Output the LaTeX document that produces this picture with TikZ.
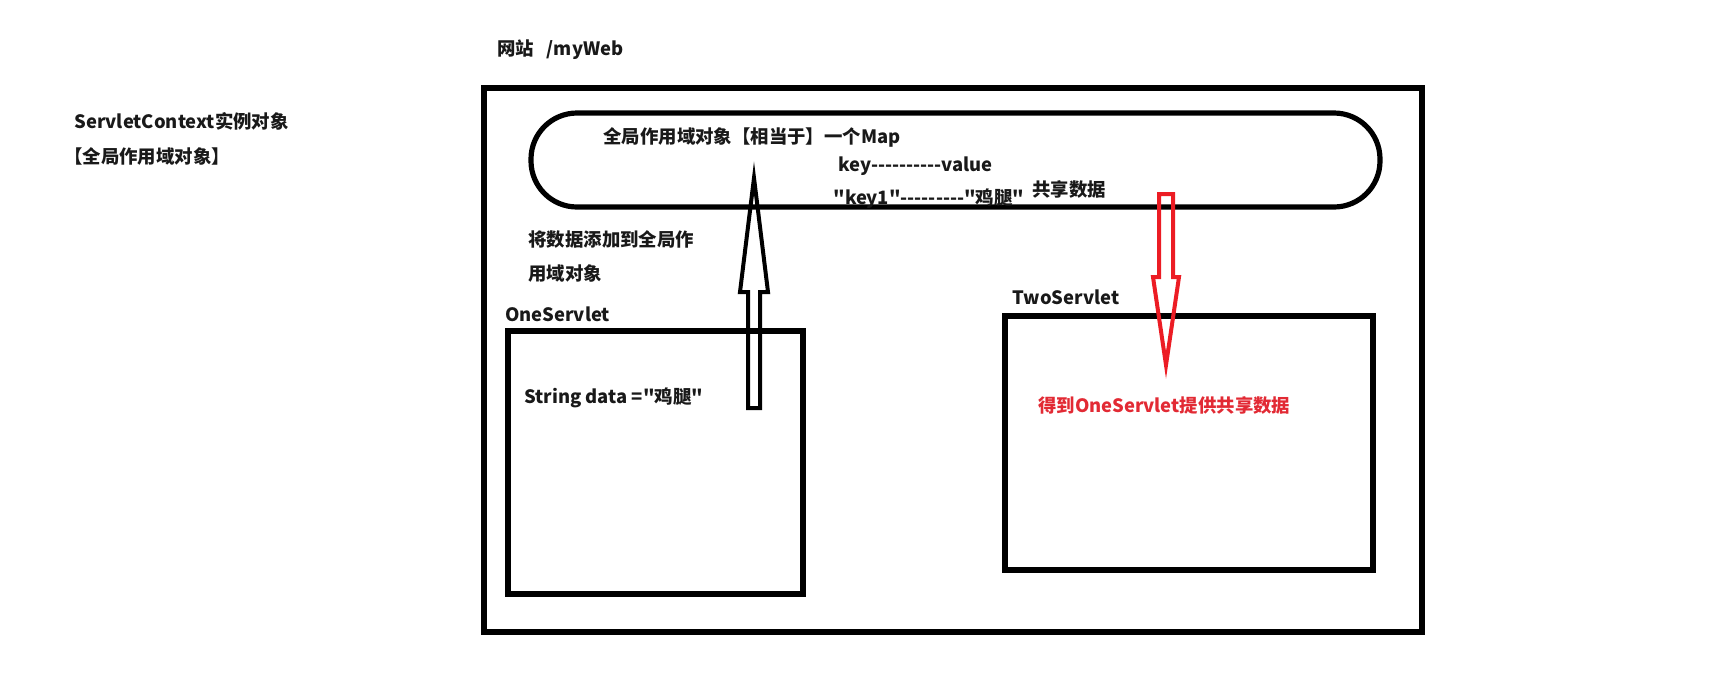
\documentclass[tikz,border=0pt]{standalone}
\usepackage{fontspec}
\newfontfamily\cnfont{Noto Sans CJK SC}
\usetikzlibrary{calc}
\definecolor{arrowred}{RGB}{236,28,36}
\definecolor{notered}{RGB}{226,42,52}
\tikzset{
  web frame/.style={draw, line width=3pt, inner sep=0pt},
  servlet box/.style={draw, line width=2.6pt, inner sep=0pt},
  scope shape/.style={draw, line width=2.6pt, rounded corners=23pt, inner sep=0pt},
  txt/.style={anchor=west, inner sep=0pt, text=black!90,
    font=\cnfont\bfseries\fontsize{9.2}{11}\selectfont},
  hollow arrow/.style={line width=2pt, line join=miter}
}

\begin{document}
\begin{tikzpicture}[x=0.5pt,y=-0.5pt]
  \useasboundingbox (0,0) rectangle (1725,687);
  % left note
  \node[txt] (ctx) at (74,121) {ServletContext实例对象};
  \node[txt] (ctxnote) at (64,156) {【全局作用域对象】};
  % the web site
  \node[txt] (webname) at (497,50) {网站\ \ \ /myWeb};
  \node[web frame, minimum width=469pt, minimum height=272pt] (web) at (953,360) {};
  % global scope object
  \node[scope shape, minimum width=424.5pt, minimum height=47pt] (scope) at (955.5,160) {};
  \node[txt] (maptitle) at (603,137) {全局作用域对象【相当于】一个Map};
  \node[txt] (mapkeys) at (838,166) {key----------value};
  \node[txt] (mapentry) at (833,199) {"key1"---------"鸡腿"};
  \node[txt] (shared) at (1032,189) {共享数据};
  % servlets
  \node[servlet box, minimum width=147.5pt, minimum height=131.5pt] (one) at (655.5,462.5) {};
  \node[txt] (onename) at (505,314) {OneServlet};
  \node[txt] (onedata) at (524,398) {String data ="鸡腿"};
  \node[txt] (putnote) at (528,239) {将数据添加到全局作};
  \node[txt] (putnote2) at (528,274) {用域对象};
  \node[servlet box, minimum width=184pt, minimum height=127pt] (two) at (1189,443) {};
  \node[txt] (twoname) at (1012,297) {TwoServlet};
  \node[txt, text=notered] (twodata) at (1038,405) {得到OneServlet提供共享数据};
  % put data into the scope
  \coordinate (putfrom) at (754,408);
  \coordinate (putto) at (754,178);
  \draw[hollow arrow] ($(putfrom)+(-6,0)$) -- ($(putto)+(-6,114)$) -- ($(putto)+(-14,114)$)
    -- (putto) -- ($(putto)+(14,114)$) -- ($(putto)+(6,114)$) -- ($(putfrom)+(6,0)$) -- cycle;
  % read data from the scope
  \coordinate (getfrom) at (1166,194);
  \coordinate (getto) at (1166,365);
  \draw[hollow arrow, arrowred] ($(getfrom)+(-7,0)$) -- ($(getto)+(-7,-88)$) -- ($(getto)+(-13,-88)$)
    -- (getto) -- ($(getto)+(13,-88)$) -- ($(getto)+(7,-88)$) -- ($(getfrom)+(7,0)$) -- cycle;
\end{tikzpicture}
\end{document}
